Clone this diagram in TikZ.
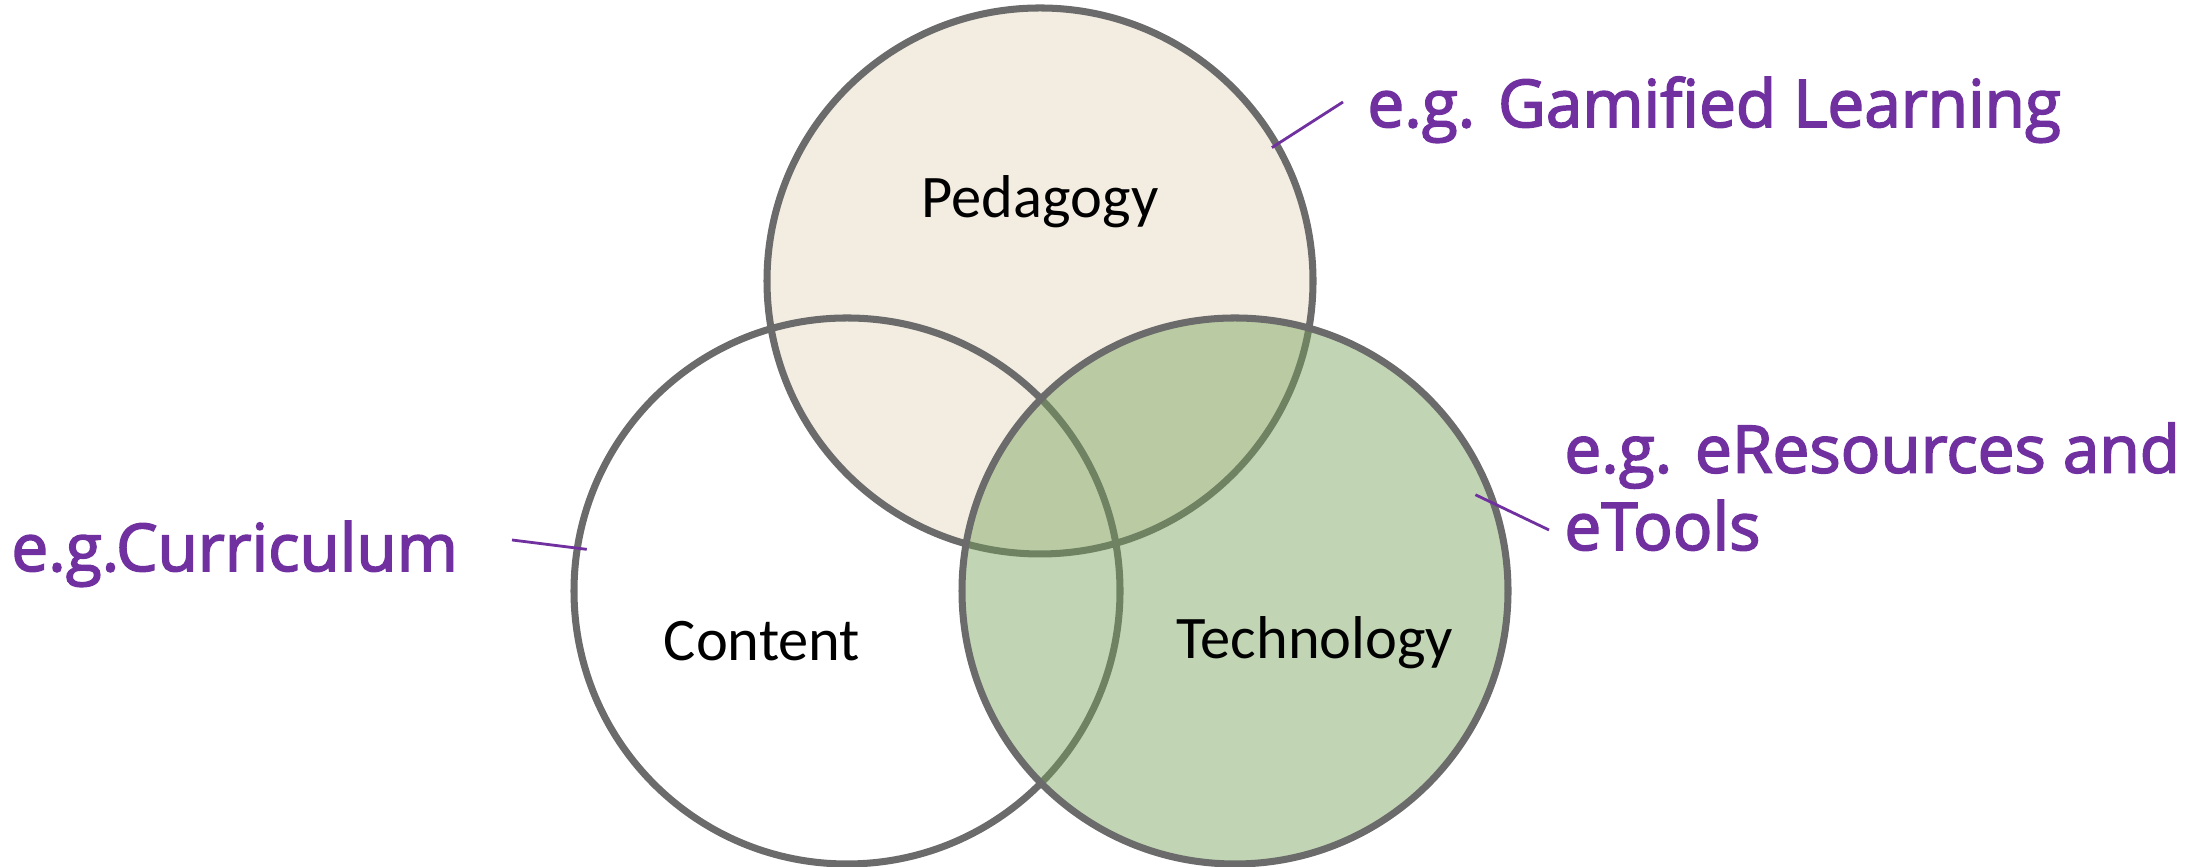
\documentclass[tikz,border=0pt]{standalone}
\usepackage{fontspec}
\setmainfont{Carlito}
\newfontfamily\egfont[FakeBold=2.5]{Open Sans}
\usetikzlibrary{calc}
\definecolor{rimgray}{RGB}{107,107,107}
\definecolor{pedfill}{RGB}{243,237,225}
\definecolor{techgreen}{RGB}{117,162,91}
\definecolor{egpurple}{RGB}{112,48,160}

\begin{document}
\begin{tikzpicture}[
  venn/.style={circle,draw=rimgray,line width=2pt,minimum size=5.46cm,inner sep=0pt},
  field/.style={font=\fontsize{17.2}{20}\selectfont},
  eg/.style={text=egpurple,align=left,font=\egfont\fontsize{18.7}{22}\selectfont},
  leader/.style={draw=egpurple,line width=0.8pt}]
\useasboundingbox (0,0) rectangle (22.02,8.67);
% the three circles
\node[venn,fill=pedfill] (ped) at (10.40,5.86) {};
\node[venn] (con) at (8.47,2.76) {};
\node[venn,fill=techgreen,fill opacity=0.45] (tec) at (12.35,2.76) {};
\node[field,anchor=base] (pedtxt) at (10.40,6.49) {Pedagogy};
\node[field,anchor=base] (contxt) at (7.62,2.06) {Content};
\node[field,anchor=base] (tectxt) at (13.15,2.08) {Technology};
% examples
\node[eg,anchor=base west] (gam) at (13.55,7.40) {e.g. Gamified Learning};
\node[eg,anchor=base west] (cur) at (-0.01,2.96) {e.g.Curriculum};
\node[eg,anchor=base west] (eres) at (15.52,3.17) {e.g. eResources and\\eTools};
\coordinate (gamend) at (13.43,7.65);
\coordinate (curend) at (5.12,3.27);
\coordinate (eresend) at (15.49,3.37);
\draw[leader,shorten <=-0.09cm] (ped.30) -- (gamend);
\draw[leader,shorten <=-0.13cm] (con.171) -- (curend);
\draw[leader,shorten <=-0.25cm] (tec.18) -- (eresend);
\end{tikzpicture}
\end{document}
